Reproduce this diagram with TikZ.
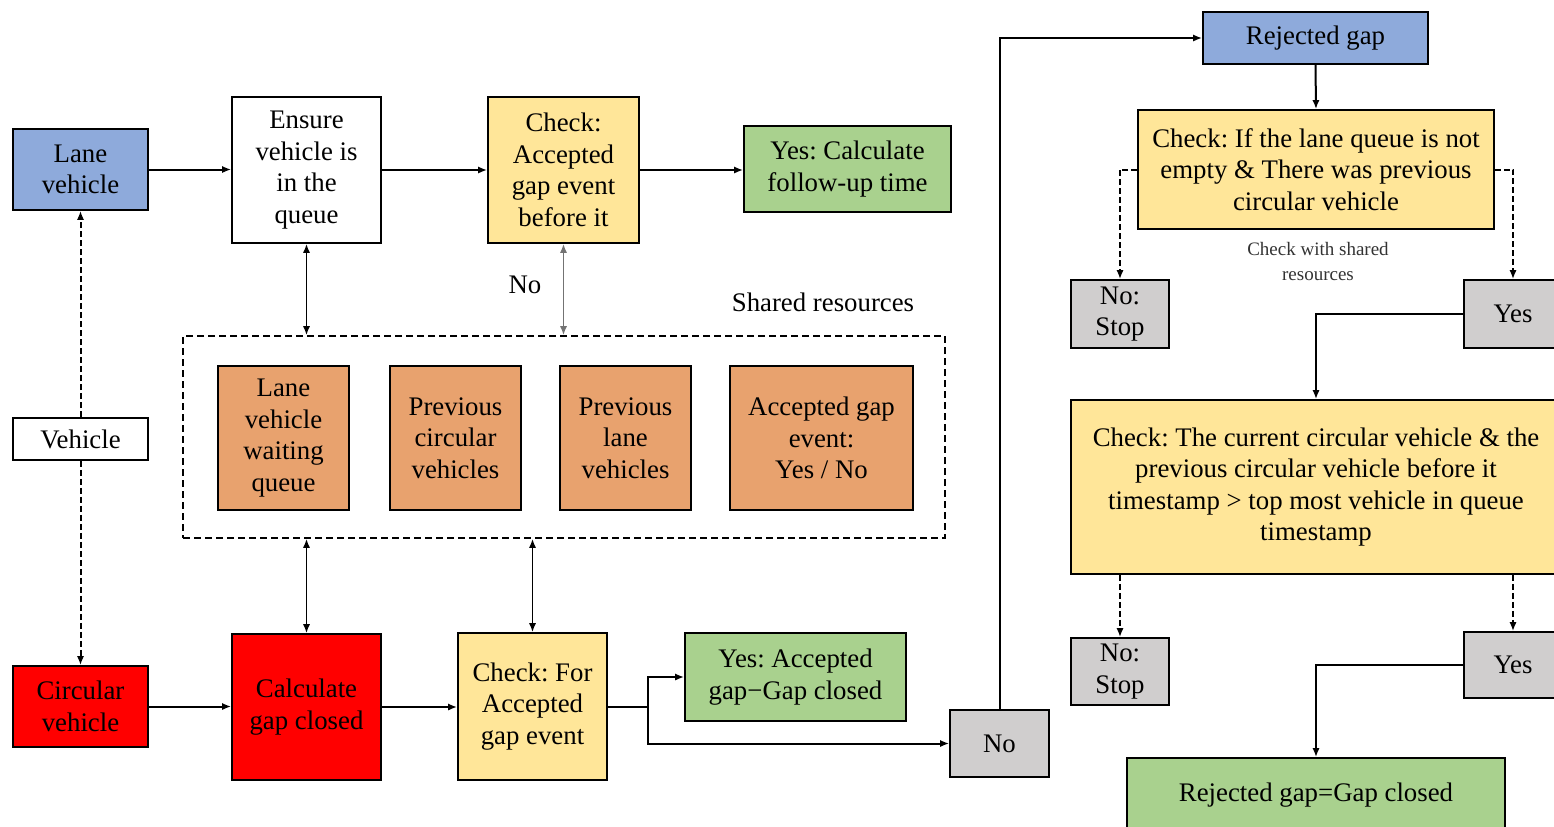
\documentclass[tikz,border=0pt]{standalone}
\usepackage{fontspec}
\setmainfont{Liberation Serif}
\usetikzlibrary{arrows.meta}
\frenchspacing

\definecolor{blueF}{RGB}{142,170,219}
\definecolor{yellowF}{RGB}{255,230,153}
\definecolor{greenF}{RGB}{169,209,142}
\definecolor{orangeF}{RGB}{232,162,110}
\definecolor{redF}{RGB}{255,0,0}
\definecolor{grayF}{RGB}{208,206,206}

% box by its corners: name, x1, y1, x2, y2, style, text
\newcommand\bx[7]{\node[#6, minimum width={(#4-#2)*0.5}, minimum height={(#5-#3)*0.5}] (#1) at ({(#2+#4)/2},{(#3+#5)/2}) {#7};}

\begin{document}
\begin{tikzpicture}[x=0.5pt,y=-0.5pt,
  box/.style={draw, line width=0.9pt, inner sep=0pt, align=center, font=\fontsize{13.4pt}{15.8pt}\selectfont},
  blue/.style={box, fill=blueF},
  yel/.style={box, fill=yellowF},
  grn/.style={box, fill=greenF},
  org/.style={box, fill=orangeF},
  rd/.style={box, fill=redF},
  gry/.style={box, fill=grayF},
  wht/.style={box, fill=white},
  group/.style={draw, line width=0.9pt, dash pattern=on 3.5pt off 2pt, inner sep=0pt},
  arr/.style={-{Latex[length=4.5pt,width=3.6pt]}, line width=1pt},
  darr/.style={arr, dash pattern=on 3pt off 1.5pt},
  biarr/.style={{Latex[length=4.5pt,width=3.6pt]}-{Latex[length=4.5pt,width=3.6pt]}, line width=0.75pt},
  lbl/.style={font=\fontsize{13.4pt}{15.8pt}\selectfont, inner sep=0pt, align=center},
  small/.style={font=\fontsize{9.5pt}{12.5pt}\selectfont, inner sep=0pt, align=center, text=black!80}
]
\useasboundingbox (0,0) rectangle (1554,826);

% left column
\bx{lane}{13}{129}{148}{210}{blue}{Lane\\vehicle}
\bx{veh}{13}{418}{148}{460}{wht}{Vehicle}
\bx{circ}{13}{666}{148}{747}{rd}{Circular\\vehicle}

% top row
\bx{ensure}{232}{97}{381}{243}{wht}{Ensure\\vehicle is\\in the\\queue}
\bx{chkacc}{488}{97}{639}{243}{yel}{Check:\\Accepted\\gap event\\before it}
\bx{follow}{744}{126}{951}{212}{grn}{Yes: Calculate\\follow-up time}

% shared resources group
\bx{shared}{183}{336}{945}{538}{group}{}
\bx{res1}{218}{366}{349}{510}{org}{Lane\\vehicle\\waiting\\queue}
\bx{res2}{390}{366}{521}{510}{org}{Previous\\circular\\vehicles}
\bx{res3}{560}{366}{691}{510}{org}{Previous\\lane\\vehicles}
\bx{res4}{730}{366}{913}{510}{org}{Accepted gap\\event:\\Yes / No}
\node[lbl] (sharedlbl) at (823,302) {Shared resources};
\node[lbl] (nolbl) at (525,285) {No};

% bottom row
\bx{calc}{232}{634}{381}{780}{rd}{Calculate\\gap closed}
\bx{chkfor}{458}{633}{607}{780}{yel}{Check: For\\Accepted\\gap event}
\bx{yesacc}{685}{633}{906}{721}{grn}{Yes: Accepted\\gap−Gap closed}
\bx{no}{950}{710}{1049}{777}{gry}{No}

% right column
\bx{rej}{1203}{12}{1428}{64}{blue}{Rejected gap}
\bx{chkif}{1138}{110}{1494}{229}{yel}{Check: If the lane queue is not\\empty \& There was previous\\circular vehicle}
\node[small] (chklbl) at (1318,261) {Check with shared\\resources};
\bx{stop1}{1071}{280}{1169}{348}{gry}{No:\\Stop}
\bx{yes1}{1464}{280}{1562}{348}{gry}{Yes}
\bx{chkcur}{1071}{400}{1561}{574}{yel}{Check: The current circular vehicle \& the\\previous circular vehicle before it\\timestamp > top most vehicle in queue\\timestamp}
\bx{stop2}{1071}{638}{1169}{705}{gry}{No:\\Stop}
\bx{yes2}{1464}{632}{1562}{698}{gry}{Yes}
\bx{final}{1127}{758}{1505}{832}{grn}{Rejected gap=Gap closed}

% connectors
\draw[darr] (veh.north) -- (lane.south);
\draw[darr] (veh.south) -- (circ.north);
\draw[arr] (lane.east) -- (lane.east -| ensure.west);
\draw[arr] (ensure.east) -- (ensure.east -| chkacc.west);
\draw[arr] (chkacc.east) -- (chkacc.east -| follow.west);
\draw[biarr] (ensure.south) -- (ensure.south |- shared.north);
\draw[biarr, black!55] (chkacc.south) -- (chkacc.south |- shared.north);
\draw[biarr] (shared.south -| calc.north) -- (calc.north);
\draw[biarr] (shared.south -| chkfor.north) -- (chkfor.north);
\draw[arr] (circ.east) -- (circ.east -| calc.west);
\draw[arr] (calc.east) -- (calc.east -| chkfor.west);
\draw[line width=1pt] (chkfor.east) -- ++(40,0) coordinate (split);
\draw[arr] (split) |- (yesacc.west);
\draw[arr] (split) |- (no.west);
\draw[arr] (no.north) |- (rej.west);
\draw[arr] (rej.south) -- (chkif.north);
\draw[darr] (chkif.west) -| (stop1.north);
\draw[darr] (chkif.east) -| (yes1.north);
\draw[arr] (yes1.west) -| (chkcur.north);
\draw[darr] (stop2.north |- chkcur.south) -- (stop2.north);
\draw[darr] (yes2.north |- chkcur.south) -- (yes2.north);
\draw[arr] (yes2.west) -| (final.north);
\end{tikzpicture}
\end{document}
